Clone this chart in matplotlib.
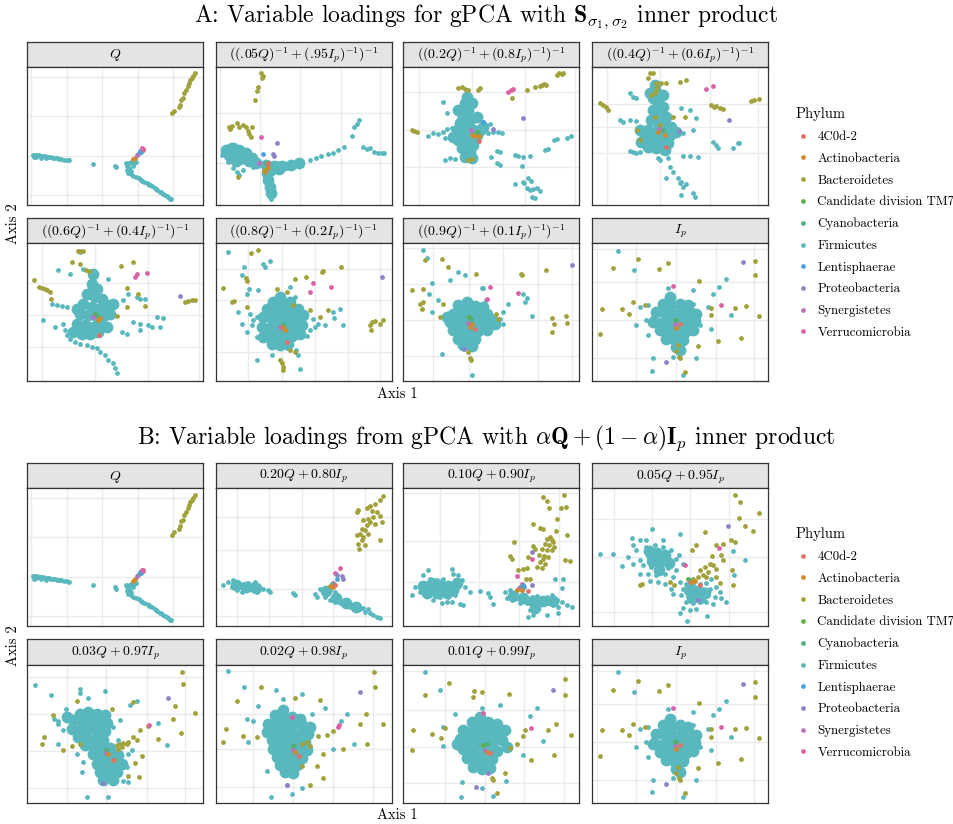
import numpy as np
import matplotlib
matplotlib.use('Agg')
import matplotlib.pyplot as plt
from matplotlib.lines import Line2D

matplotlib.rcParams['font.family'] = 'serif'
matplotlib.rcParams['font.serif'] = ['cmr10', 'DejaVu Serif']
matplotlib.rcParams['mathtext.fontset'] = 'cm'
matplotlib.rcParams['axes.unicode_minus'] = False

# phyla and colours
PHYLA = ['4C0d-2', 'Actinobacteria', 'Bacteroidetes', 'Candidate division TM7',
         'Cyanobacteria', 'Firmicutes', 'Lentisphaerae', 'Proteobacteria',
         'Synergistetes', 'Verrucomicrobia']
COLORS = ['#E2716B', '#CE8B2E', '#A2A23C', '#5DAE4A', '#4FB07C',
          '#58B8BE', '#4AA2DC', '#8C84C8', '#B872C0', '#DB62A6']
CODE = {'R': 0, 'A': 1, 'T': 3, 'C': 4, 'L': 6, 'P': 7, 'S': 8, 'V': 9}

# ---- loadings (axis units, both axes unlabelled) ----
# Q
q_firm = [(18,150),(24,151),(30,150),(36,149),(42,148),(48,147),(54,146),(60,145),(66,144),(72,143),
          (78,142),(84,141),(90,140),(96,139),(102,138),(110,136),(118,135),(126,134),(20,143),(26,144),
          (40,142),(55,140),(198,123),(263,117),(266,113),(298,118),(305,125),(312,128),(320,126),(318,118),
          (305,112),(296,125),(326,130),(303,97),(310,92),(318,88),(326,84),(334,80),(342,76),(350,70),
          (358,66),(366,60),(374,56),(382,50),(390,45),(398,40),(406,34),(414,30),(422,24),(428,19),
          (430,17),(345,72),(365,62),(385,48),(400,38),(420,27),(300,105),(310,102)]
q_core = []
q_bact = [(435,275),(441,283),(455,293),(458,300),(461,315),(466,320),(471,335),(476,345),(481,357),
          (485,365),(488,375),(493,380),(498,387),(504,395)]
q_misc = [(323,142,'A'),(318,137,'A'),(333,153,'C'),(330,150,'S'),(338,162,'L'),(341,159,'L'),
          (348,165,'P'),(346,168,'R'),(343,170,'V')]

# ((.05Q)^-1 + (.95Ip)^-1)^-1
s05_firm = [(23,155),(29,173),(39,177),(49,175),(59,180),(69,173),(79,167),(89,159),(99,149),(109,139),
            (119,129),(125,120),(33,140),(45,133),(55,127),(65,123),(75,130),(85,137),(93,125),(105,125),
            (53,110),(63,100),(71,90),(83,105),(113,113),(43,155),(58,155),(73,150),(38,130),(18,150),
            (158,120),(168,115),(178,117),(188,113),(198,115),(208,117),(218,120),(228,121),(238,123),
            (248,125),(258,127),(173,105),(193,105),(213,110),(163,105),(183,125),(203,123),
            (283,135),(301,142),(316,147),(338,153),(353,157),(368,165),(385,175),(408,207),(416,233),
            (423,243),(430,255),(441,173),(453,167),(463,170),(475,159),(486,157),(498,157),(505,157),
            (148,85),(151,70),(155,55),(159,40),(163,25),(166,17),(153,63)]
s05_core = [(30,165),(50,170),(70,165),(90,155),(110,140),(40,150),(60,152),(80,142),(100,132),
            (60,132),(120,125),(150,120),(175,118),(200,118),(225,120),(250,125),(165,105),(190,108),
            (155,95),(158,75),(162,55),(165,35)]
s05_bact = [(136,395),(141,387),(138,380),(128,353),(125,343),(117,315),(39,233),(48,237),(63,247),
            (71,235),(83,240),(91,233),(98,223),(101,213),(105,203),(43,227),(108,235),(68,85),(145,105)]
s05_misc = [(136,205,'V'),(183,187,'P'),(171,153,'P'),(175,147,'P'),(141,153,'L'),(131,127,'S'),
            (153,120,'A'),(158,110,'A'),(150,127,'C'),(156,125,'R'),(149,100,'A')]

# ((0.2Q)^-1 + (0.8Ip)^-1)^-1
s20_firm = [(120,310),(130,275),(90,215),(105,213),(120,220),(130,227),(145,230),(75,207),(125,200),
            (125,135),(140,140),(155,137),(180,140),(240,220),(255,217),(270,220),(285,220),(295,215),
            (240,250),(260,243),(280,163),(290,160),(335,150),(345,147),(360,145),(380,147),(262,143),
            (280,125),(290,120),(355,117),(425,165),(435,169),(452,195),(460,199),(490,200),(502,207),
            (335,63),(360,70),(375,80),(382,73),(370,50),(380,45),(390,47),(400,50),(410,43),(385,25),
            (395,20),(362,65)]
s20_core = [(190,325),(185,305),(195,285),(180,265),(200,255),(170,245),(190,235),(210,225),(180,215),
            (200,205),(220,210),(165,195),(190,185),(210,180),(175,170),(200,160),(185,145),(205,140),
            (160,225),(230,225),(150,205),(240,235),(220,265),(165,285),(205,305)]
s20_bact = [(460,390),(468,395),(475,393),(480,397),(410,357),(415,360),(422,362),(428,360),(395,353),
            (372,345),(325,320),(25,225),(32,223),(40,220),(165,350),(175,353),(185,347),(195,345),
            (225,345),(230,350),(195,135),(205,137)]
s20_misc = [(315,340,'V'),(322,345,'V'),(330,347,'V'),(358,262,'P'),(270,227,'P'),(238,250,'L'),
            (203,225,'S'),(220,220,'T'),(225,215,'C'),(205,210,'A'),(215,207,'A'),(228,207,'A'),
            (228,192,'R')]

# ((0.4Q)^-1 + (0.6Ip)^-1)^-1
s40_firm = [(113,335),(123,325),(133,320),(113,255),(83,255),(93,250),(133,253),(113,163),(123,160),
            (133,157),(143,160),(198,140),(203,135),(228,140),(273,147),(293,147),(318,143),(233,115),
            (243,100),(258,80),(263,65),(268,70),(273,55),(283,63),(268,30),(303,35),(308,25),(223,80),
            (363,190),(373,180),(378,170),(423,170),(438,185),(443,187),(268,290),(293,285),(311,260),
            (273,215),(303,225)]
s40_core = [(188,360),(193,340),(183,320),(198,305),(213,295),(183,285),(203,275),(223,265),(178,255),
            (198,245),(218,240),(238,235),(168,225),(193,220),(213,215),(233,210),(158,205),(183,195),
            (208,190),(228,185),(168,175),(193,170),(218,165),(148,190),(253,220),(143,225),(173,335),
            (213,330)]
s40_bact = [(173,395),(183,397),(168,380),(193,365),(208,365),(223,365),(263,370),(283,375),(195,355),
            (193,345),(188,335),(178,330),(23,307),(33,300),(41,293),(48,285),(358,300),(365,293),
            (373,297),(383,290),(393,287),(478,313),(488,315),(501,317),(135,225),(143,195),(188,265),
            (203,240),(243,265),(278,263)]
s40_misc = [(343,347,'V'),(363,357,'V'),(413,255,'P'),(261,223,'P'),(201,227,'S'),(213,225,'C'),
            (198,220,'A'),(218,210,'A'),(221,173,'R')]

# ((0.6Q)^-1 + (0.4Ip)^-1)^-1
s60_firm = [(93,335),(128,323),(168,338),(158,388),(243,308),(303,263),(328,253),(338,248),(353,248),
            (288,243),(73,233),(88,228),(103,225),(118,223),(108,173),(113,153),(118,138),(128,128),
            (143,118),(158,113),(178,108),(193,103),(208,98),(218,88),(233,78),(243,63),(258,53),
            (263,38),(268,23),(388,193),(406,191),(398,163),(318,178),(338,173),(363,168),(373,163),
            (283,148),(298,143),(338,153),(48,183),(83,163)]
s60_core = [(198,323),(193,293),(208,278),(178,263),(203,253),(223,248),(168,233),(193,223),(218,218),
            (238,228),(158,203),(183,198),(208,193),(233,198),(148,173),(173,168),(198,163),(223,168),
            (138,148),(163,143),(188,141),(213,148),(238,163),(148,218),(248,203),(258,233)]
s60_bact = [(20,303),(36,283),(43,281),(53,278),(60,273),(68,268),(70,248),(153,391),(158,393),
            (166,391),(133,358),(158,353),(176,335),(186,333),(316,358),(280,348),(298,281),(333,263),
            (353,225),(268,195),(298,223),(473,238),(483,241),(493,243),(503,245)]
s60_misc = [(323,313,'V'),(328,323,'V'),(358,325,'V'),(458,255,'P'),(203,203,'T'),(208,195,'C'),
            (196,193,'S'),(213,185,'A'),(218,191,'A'),(216,138,'R')]

# ((0.8Q)^-1 + (0.2Ip)^-1)^-1
s80_firm = [(38,388),(85,343),(101,278),(93,263),(143,353),(163,363),(148,343),(78,318),(68,208),
            (103,203),(123,193),(93,148),(123,133),(308,173),(328,168),(383,168),(351,208),(373,218),
            (355,191),(123,63),(168,78),(213,98),(253,35),(241,93),(248,78),(78,173),(293,188),
            (298,163),(263,173),(283,153),(273,135),(113,183),(108,168),(223,283),(238,253),(128,273),
            (253,208)]
s80_core = [(193,253),(173,238),(198,233),(223,238),(153,218),(178,213),(203,208),(228,213),(248,218),
            (143,193),(168,188),(193,185),(218,188),(243,193),(263,198),(138,163),(163,160),(188,158),
            (213,161),(238,165),(258,168),(153,138),(178,133),(203,131),(228,135),(168,113),(193,108),
            (218,111),(143,133),(253,143)]
s80_bact = [(23,281),(105,385),(128,395),(48,238),(55,241),(91,311),(95,301),(93,223),(183,278),
            (213,268),(318,328),(323,333),(375,343),(238,308),(270,313),(233,228),(283,215),(313,193),
            (338,215),(463,168),(468,178),(478,181),(503,185),(493,173),(465,155),(193,63),(198,53),
            (201,43),(203,33),(223,93),(238,88)]
s80_misc = [(291,295,'V'),(346,283,'V'),(283,268,'V'),(498,313,'P'),(201,173,'C'),(193,163,'S'),
            (203,163,'A'),(208,155,'A'),(215,118,'R')]

# ((0.9Q)^-1 + (0.1Ip)^-1)^-1
s90_firm = [(58,395),(70,371),(85,295),(140,305),(165,328),(185,318),(235,281),(240,281),(248,245),
            (290,188),(300,173),(315,231),(360,263),(370,251),(365,238),(385,195),(115,80),(205,18),
            (78,263),(85,208),(105,243),(260,165),(300,208),(185,113),(170,108)]
s90_core = [(190,238),(165,228),(190,223),(215,225),(240,223),(150,203),(175,201),(200,203),(225,201),
            (250,203),(140,178),(165,175),(190,178),(215,175),(240,178),(265,183),(150,153),(175,151),
            (200,153),(225,151),(250,155),(165,128),(190,125),(215,128),(180,108),(205,105),(130,193),
            (275,173)]
s90_bact = [(25,275),(58,278),(65,365),(117,368),(135,343),(218,323),(355,318),(352,323),(428,335),
            (50,233),(55,218),(60,238),(120,233),(110,193),(445,191),(452,171),(445,148),(488,195),
            (490,176),(195,88),(200,68),(202,63),(278,203),(285,188)]
s90_misc = [(505,351,'P'),(183,95,'P'),(260,283,'V'),(345,265,'V'),(252,248,'V'),(198,193,'T'),
            (203,188,'C'),(195,175,'S'),(205,173,'A'),(200,163,'A'),(215,158,'R')]

# Ip
ip_firm = [(78,393),(125,335),(228,281),(303,273),(363,263),(381,283),(403,308),(418,198),(348,223),
           (133,168),(168,138),(183,68),(181,31),(243,73),(273,18),(313,68),(358,158),(323,168),
           (143,223),(168,228),(183,193),(318,193),(303,233),(163,183)]
ip_core = [(233,253),(213,233),(238,228),(263,233),(288,228),(193,208),(218,205),(243,203),(268,205),
           (293,208),(313,203),(183,178),(208,175),(233,177),(258,175),(283,178),(308,181),(203,153),
           (228,148),(253,151),(278,148),(303,155),(223,128),(248,123),(273,125),(253,103),(263,93)]
ip_bact = [(28,218),(23,141),(63,341),(138,368),(201,338),(228,355),(88,218),(111,203),(158,228),
           (123,238),(321,301),(358,221),(358,198),(431,221),(463,225),(503,195),(490,363),(490,318),
           (378,121),(448,131),(258,108),(261,73),(263,68),(318,105),(278,28),(251,91)]
ip_misc = [(455,358,'P'),(221,57,'P'),(243,285,'V'),(388,228,'V'),(248,183,'T'),(253,185,'C'),
           (248,171,'S'),(251,161,'A'),(265,173,'R')]

# 0.20Q + 0.80Ip
a20_firm = [(23,123),(38,133),(53,138),(68,133),(83,128),(98,130),(113,126),(128,118),(143,113),
            (158,108),(48,118),(63,108),(78,103),(93,110),(108,108),(123,103),(73,118),(93,123),
            (53,123),(163,103),(118,133),(233,98),(238,93),(298,96),(303,88),(313,113),(328,116),
            (343,110),(358,103),(338,98),(328,88),(343,78),(358,73),(373,68),(388,63),(403,58),
            (418,53),(433,50),(448,43),(458,50),(463,38),(473,33),(483,28),(493,23),(353,88),(383,73),
            (413,63),(423,48),(443,53)]
a20_core = [(60,125),(90,118),(120,115),(330,105),(360,85),(390,70),(420,58)]
a20_bact = [(501,393),(493,380),(478,368),(463,363),(453,356),(468,348),(483,343),(493,333),(473,328),
            (458,323),(443,318),(463,313),(478,308),(453,303),(438,293),(448,288),(433,278),(423,273),
            (443,268),(438,258),(428,248),(448,243),(431,233),(493,258),(423,343),(428,350),(498,313),
            (458,278)]
a20_misc = [(373,176,'V'),(358,160,'V'),(383,143,'P'),(378,150,'P'),(363,153,'P'),(363,143,'L'),
            (353,130,'S'),(348,126,'C'),(343,120,'A'),(353,118,'A'),(358,123,'R')]

# 0.10Q + 0.90Ip
a10_firm = [(25,93),(50,103),(60,153),(75,168),(80,143),(100,138),(120,143),(145,173),(150,158),
            (165,153),(185,118),(200,103),(178,63),(170,66),(115,68),(130,73),(35,118),(65,128),
            (85,118),(105,108),(125,103),(145,108),(165,118),(90,98),(110,88),(135,88),(155,93),
            (70,108),(175,138),(90,78),(145,73),(230,106),(255,98),(260,88),(268,66),
            (305,103),(320,108),(335,96),(310,83),(325,78),(340,83),(355,88),(370,83),(385,88),
            (400,90),(415,83),(430,88),(445,93),(460,78),(475,73),(490,63),(505,58),(370,68),(385,63),
            (400,58),(380,48),(390,33),(375,28),(410,68),(435,68),(450,63),(465,58),(350,68),(355,108),
            (430,33),(465,38),(455,143),(475,116),(480,143)]
a10_core = [(60,120),(85,130),(110,125),(135,120),(160,130),(70,100),(100,100),(130,100),(150,110),
            (330,90),(360,85),(390,75),(420,75),(450,75),(395,55)]
a10_bact = [(418,388),(430,378),(482,395),(488,358),(473,356),(437,356),(460,323),(390,306),(410,296),
            (418,293),(458,286),(490,273),(500,196),(332,253),(320,210),(325,203),(345,168),(360,173),
            (370,176),(375,208),(390,241),(395,233),(380,143),(368,143),(420,203),(485,198),
            (430,263),(440,268),(425,248),(438,243),(450,253),(415,233),(430,228),(445,228),(408,213),
            (422,210),(435,208),(410,193),(425,188),(400,178),(415,176),(445,258),(452,238)]
a10_misc = [(340,151,'V'),(385,203,'V'),(355,128,'V'),(385,223,'P'),(385,125,'P'),(360,123,'L'),
            (363,118,'L'),(350,118,'C'),(348,116,'S'),(342,110,'A'),(355,108,'A'),(375,106,'R')]

# 0.05Q + 0.95Ip
a05_firm = [(181,293),(265,278),(121,266),(143,260),(161,258),(23,218),(63,218),(108,208),(88,180),
            (123,188),(143,198),(168,210),(193,206),(223,198),(253,203),(133,228),(163,238),(188,243),
            (213,238),(238,228),(153,183),(178,178),(203,183),(228,176),(253,168),(168,158),(193,153),
            (218,156),(243,148),(143,156),(198,133),(173,136),(218,128),(261,213),(273,188),(123,243),
            (213,258),
            (263,133),(283,128),(303,126),(323,128),(343,130),(358,143),(273,113),(293,108),(313,110),
            (333,113),(353,113),(373,118),(383,103),(268,93),(288,90),(308,93),(328,96),(348,93),
            (368,88),(388,83),(403,73),(283,73),(303,70),(323,73),(343,73),(363,66),(273,53),(293,48),
            (313,50),(263,38),(285,16),(345,30),(243,96),(238,113),(428,153),(461,198),(423,226)]
a05_core = [(170,225),(195,220),(220,215),(180,195),(205,195),(230,190),(200,170),(290,110),(315,105),
            (340,100),(300,85),(325,85)]
a05_bact = [(431,395),(445,373),(501,340),(441,326),(461,300),(483,286),(338,283),(311,243),(301,230),
            (373,243),(393,248),(418,260),(431,253),(388,213),(361,210),(393,198),(421,168),(425,123),
            (233,133),(143,123),(151,128),(245,123),(373,148),(383,130),
            (323,168),(338,178),(353,188),(363,183),(348,163),(333,153),(318,148),(303,143),(343,148),
            (373,173)]
a05_misc = [(408,300,'P'),(318,78,'P'),(381,236,'V'),(278,183,'V'),(288,143,'T'),(293,140,'C'),
            (295,133,'S'),(298,133,'A'),(308,136,'A'),(323,123,'R')]

# 0.03Q + 0.97Ip
a03_firm = [(23,355),(70,325),(158,343),(158,330),(233,338),(183,316),(308,293),(328,308),(393,240),
            (420,173),(93,178),(80,253),(93,238),(116,283),(180,18),(243,18),(266,68),(288,66),(303,63),
            (93,246),(108,218),(148,148),(168,123),(163,93),(298,108),(303,148),(313,158),(273,188),
            (258,228),(278,248)]
a03_core = [(158,268),(183,273),(208,268),(233,263),(138,248),(163,246),(188,248),(213,243),(238,240),
            (133,223),(158,220),(183,223),(208,218),(233,216),(153,198),(178,196),(203,193),(228,190),
            (173,173),(198,170),(223,168),(248,166),(198,146),(223,143),(248,140),(273,143),(208,118),
            (233,113),(258,116),(283,118),(218,93),(243,90),(268,93),(228,68),(258,68),(118,258)]
a03_bact = [(463,395),(468,358),(503,270),(443,290),(438,253),(460,210),(393,193),(316,303),(253,283),
            (148,306),(78,263),(50,198),(43,178),(133,170),(106,160),(318,198),(328,188),(338,218),
            (363,230),(343,140),(323,120),(303,80),(336,76),(260,128),(158,178),
            (268,173),(278,178),(288,180),(298,176),(283,168),(273,163),(303,183)]
a03_misc = [(366,233,'V'),(421,316,'P'),(228,60,'P'),(236,160,'T'),(240,158,'C'),(236,150,'S'),
            (243,148,'A'),(258,130,'R')]

# 0.02Q + 0.98Ip
a02_firm = [(38,396),(85,348),(181,340),(258,328),(128,290),(203,313),(393,266),(375,246),(415,178),
            (353,163),(98,183),(153,96),(228,26),(165,18),(258,43),(213,53),(93,253),(113,246),
            (328,286),(288,268)]
a02_core = [(203,278),(178,263),(203,258),(228,258),(253,253),(158,238),(183,236),(208,233),(233,236),
            (258,233),(283,228),(153,213),(178,210),(203,208),(228,210),(253,208),(278,206),(168,188),
            (193,185),(218,183),(243,186),(268,183),(173,163),(198,160),(223,158),(248,160),(273,158),
            (183,138),(208,136),(233,133),(258,136),(193,113),(218,110),(243,113),(208,93),(233,90)]
a02_bact = [(475,395),(478,348),(503,238),(433,238),(451,268),(453,176),(383,163),(323,148),(308,200),
            (333,203),(353,215),(321,73),(283,53),(303,110),(258,110),(135,348),(63,308),(31,223),
            (23,183),(81,200),(125,198),(239,316),(313,311),(258,178),(273,183),(283,170)]
a02_misc = [(371,233,'V'),(368,228,'V'),(228,258,'V'),(433,333,'P'),(215,53,'P'),(231,170,'T'),
            (235,172,'C'),(233,158,'S'),(238,153,'A'),(251,140,'R')]

# 0.01Q + 0.99Ip
a01_firm = [(65,395),(110,340),(290,293),(235,286),(402,286),(380,261),(420,186),(358,145),(175,61),
            (235,43),(268,20),(173,18),(308,66),(118,170),(120,228),(155,268)]
a01_core = [(230,258),(205,243),(230,240),(255,243),(280,238),(180,218),(205,216),(230,213),(255,216),
            (280,213),(305,218),(170,193),(195,190),(220,188),(245,190),(270,186),(295,190),(180,163),
            (205,160),(230,158),(255,160),(280,156),(190,136),(215,133),(240,130),(265,133),(210,108),
            (235,103),(260,106),(160,178),(310,168)]
a01_bact = [(138,360),(65,326),(208,320),(212,336),(235,334),(318,328),(485,373),(485,326),(504,205),
            (452,143),(458,238),(435,220),(365,218),(358,200),(340,178),(320,166),(30,218),(25,158),
            (85,208),(112,196),(125,226),(265,73),(268,68),(305,90),(280,30),(382,130)]
a01_misc = [(382,225,'V'),(238,270,'V'),(448,340,'P'),(218,46,'P'),(255,90,'P'),(240,173,'T'),
            (250,176,'C'),(245,160,'S'),(250,153,'A'),(260,150,'R')]

FACETS = {
    'q': (q_firm, q_core, q_bact, q_misc),
    's05': (s05_firm, s05_core, s05_bact, s05_misc),
    's20': (s20_firm, s20_core, s20_bact, s20_misc),
    's40': (s40_firm, s40_core, s40_bact, s40_misc),
    's60': (s60_firm, s60_core, s60_bact, s60_misc),
    's80': (s80_firm, s80_core, s80_bact, s80_misc),
    's90': (s90_firm, s90_core, s90_bact, s90_misc),
    'ip': (ip_firm, ip_core, ip_bact, ip_misc),
    'a20': (a20_firm, a20_core, a20_bact, a20_misc),
    'a10': (a10_firm, a10_core, a10_bact, a10_misc),
    'a05': (a05_firm, a05_core, a05_bact, a05_misc),
    'a03': (a03_firm, a03_core, a03_bact, a03_misc),
    'a02': (a02_firm, a02_core, a02_bact, a02_misc),
    'a01': (a01_firm, a01_core, a01_bact, a01_misc),
}

# grid breaks per facet (x, y)
GRID = {
    'q': ([10,118,223,331,436], [385,267,147,30]),
    's05': ([13,133,253,375,493], [275,127]),
    's20': ([48,205,365,515], [340,225,113]),
    's40': ([43,203,353,498], [410,303,233,157]),
    's60': ([43,203,363,516], [295,198,101]),
    's80': ([98,198,298,398,493], [338,245,88]),
    's90': ([90,198,300,405,505], [401,291,183,75]),
    'ip': ([15,133,251,371,488], [398,298,183,68]),
    'a20': ([65,161,258,351,448], [328,228,113,30]),
    'a10': ([110,228,348,468], [400,256,133]),
    'a05': ([66,181,295,411], [323,208,43]),
    'a03': ([120,236,358,473], [380,268,156,43]),
    'a02': ([113,233,353,473], [398,268,163,48]),
    'a01': ([125,245,362,482], [398,278,168,58]),
}

FACETS_A = ['q', 's05', 's20', 's40', 's60', 's80', 's90', 'ip']
LABELS_A = [r'$Q$', r'$((.\!05Q)^{-1}+(.\!95I_p)^{-1})^{-1}$', r'$((0.2Q)^{-1}+(0.8I_p)^{-1})^{-1}$',
            r'$((0.4Q)^{-1}+(0.6I_p)^{-1})^{-1}$', r'$((0.6Q)^{-1}+(0.4I_p)^{-1})^{-1}$',
            r'$((0.8Q)^{-1}+(0.2I_p)^{-1})^{-1}$', r'$((0.9Q)^{-1}+(0.1I_p)^{-1})^{-1}$', r'$I_p$']
FACETS_B = ['q', 'a20', 'a10', 'a05', 'a03', 'a02', 'a01', 'ip']
LABELS_B = [r'$Q$', r'$0.20Q+0.80I_p$', r'$0.10Q+0.90I_p$', r'$0.05Q+0.95I_p$',
            r'$0.03Q+0.97I_p$', r'$0.02Q+0.98I_p$', r'$0.01Q+0.99I_p$', r'$I_p$']

W, H = 954., 824.
COLS = [(27.3, 203.3), (215.7, 391.7), (403.3, 579.3), (592.3, 767.7)]
ROWS_A = [(41.7, 66.7, 205.0), (217.7, 243.3, 381.0)]
ROWS_B = [(462.7, 488.3, 626.0), (639.3, 665.0, 802.7)]


def px_axes(fig, x0, y0, x1, y1):
    return fig.add_axes([x0/W, 1-y1/H, (x1-x0)/W, (y1-y0)/H])


def draw_facet(fig, key, label, col, row):
    x0, x1 = col
    s0, s1, p1 = row
    st = px_axes(fig, x0, s0, x1, s1)
    st.set_facecolor('#E4E4E4')
    st.set_xticks([]); st.set_yticks([])
    for sp in st.spines.values():
        sp.set_color('#333333'); sp.set_linewidth(0.9)
    st.text(0.5, 0.45, label, ha='center', va='center', fontsize=10, transform=st.transAxes)

    ax = px_axes(fig, x0, s1, x1, p1)
    firm, core, bact, misc = FACETS[key]
    gx, gy = GRID[key]
    ax.set_xlim(0, 528)
    ax.set_ylim(0, 415)
    ax.set_xticks(gx); ax.set_yticks(gy)
    ax.tick_params(length=0, labelbottom=False, labelleft=False)
    ax.grid(True, color='#EBEBEB', lw=1.0)
    ax.set_axisbelow(True)
    for sp in ax.spines.values():
        sp.set_color('#333333'); sp.set_linewidth(0.9)
    fc = COLORS[5]
    # dense clusters: overlapping points drawn as one filled mass
    if core:
        c = np.array(core)
        ax.scatter(c[:, 0], c[:, 1], s=72, c=fc, lw=0, zorder=2)
    f = np.array(firm)
    ax.scatter(f[:, 0], f[:, 1], s=12, c=fc, lw=0, zorder=3)
    b = np.array(bact)
    ax.scatter(b[:, 0], b[:, 1], s=12, c=COLORS[2], lw=0, zorder=4)
    for (x, y, k) in misc:
        ax.scatter([x], [y], s=12, c=COLORS[CODE[k]], lw=0, zorder=5)
    return ax


def draw_block(fig, keys, labels, rows, title, title_y, xlab_y, legend_y):
    for i, (k, lab) in enumerate(zip(keys, labels)):
        draw_facet(fig, k, lab, COLS[i % 4], rows[i // 4])
    fig.text(486/W, 1-title_y/H, title, ha='center', va='center', fontsize=17)
    fig.text(397/W, 1-xlab_y/H, 'Axis 1', ha='center', va='center', fontsize=10.5)
    yc = (rows[0][1] + rows[1][2]) / 2
    fig.text(13/W, 1-yc/H, 'Axis 2', ha='center', va='center', rotation=90, fontsize=10.5)
    handles = [Line2D([], [], ls='', marker='o', ms=3.4, mew=0, color=c) for c in COLORS]
    leg = fig.legend(handles, PHYLA, loc='upper left', bbox_to_anchor=(789/W, 1-legend_y/H),
                     frameon=False, title='Phylum', fontsize=9.3, title_fontsize=10.5,
                     labelspacing=0.74, handletextpad=0.5, handlelength=1.2, borderpad=0.0)
    leg._legend_box.align = 'left'


fig = plt.figure(figsize=(W/100, H/100), dpi=100)
draw_block(fig, FACETS_A, LABELS_A, ROWS_A,
           r'A: Variable loadings for gPCA with $\mathbf{S}_{\sigma_1,\sigma_2}$ inner product',
           17, 394, 101)
draw_block(fig, FACETS_B, LABELS_B, ROWS_B,
           r'B: Variable loadings from gPCA with $\alpha\mathbf{Q}+(1-\alpha)\mathbf{I}_p$ inner product',
           438, 815, 521)
fig.savefig('out.png', dpi=100)
